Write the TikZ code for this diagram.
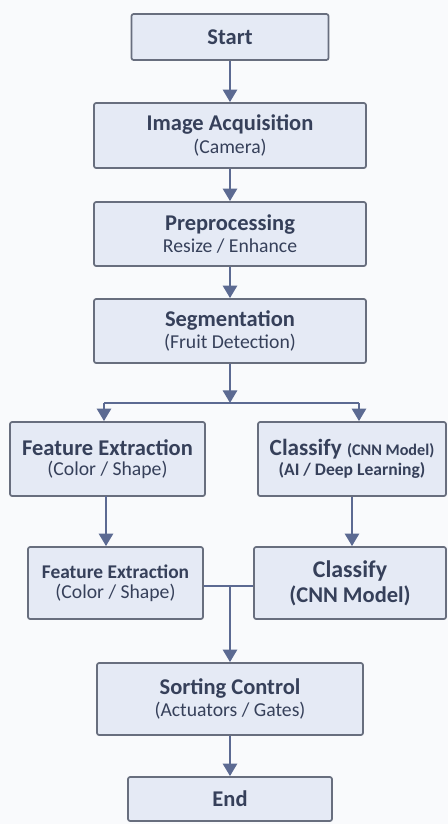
\documentclass[tikz,border=0pt]{standalone}
\usepackage{fontspec}
\setmainfont{Carlito}
\usepackage{tikz}
\usetikzlibrary{arrows.meta,calc,positioning}
\definecolor{fsBack}{RGB}{249,250,252}
\definecolor{fsFill}{RGB}{229,234,245}
\definecolor{fsLine}{RGB}{104,110,126}
\definecolor{fsFlow}{RGB}{92,106,146}
\definecolor{fsText}{RGB}{54,64,90}
\newcommand{\stagetext}[2]{%
  {\fontsize{16}{18}\selectfont\bfseries #1}\\[2pt]
  {\fontsize{14}{16}\selectfont #2}%
}
\tikzset{
  stagebox/.style={draw=fsLine, fill=fsFill, line width=1.2pt,
    rounded corners=1.5pt, align=center, text=fsText, inner sep=0pt},
  flow/.style={draw=fsFlow, line width=2pt,
    -{Triangle[width=10pt,length=9pt]}},
  flowline/.style={draw=fsFlow, line width=2pt}
}

\begin{document}
\begin{tikzpicture}[x=0.025cm,y=-0.025cm]
  \fill[fsBack] (0,0) rectangle (448,824);
  \useasboundingbox (0,0) rectangle (448,824);
  % main column
  \node[stagebox, minimum width=197*0.025cm, minimum height=46*0.025cm]
    (start) at (230,37) {\fontsize{16}{18}\selectfont\bfseries Start};
  \node[stagebox, minimum width=272*0.025cm, minimum height=65*0.025cm]
    (acq) at (230,135.5) {\stagetext{Image Acquisition}{(Camera)}};
  \node[stagebox, minimum width=272*0.025cm, minimum height=64*0.025cm]
    (pre) at (230,234) {\stagetext{Preprocessing}{Resize / Enhance}};
  \node[stagebox, minimum width=272*0.025cm, minimum height=64*0.025cm]
    (seg) at (230,331) {\stagetext{Segmentation}{(Fruit Detection)}};
  % two branches
  \node[stagebox, minimum width=195*0.025cm, minimum height=74*0.025cm]
    (feA) at (107.5,459) {\stagetext{Feature Extraction}{(Color / Shape)}};
  \node[stagebox, minimum width=188*0.025cm, minimum height=74*0.025cm]
    (clA) at (352,459) {{\fontsize{16.5}{18}\selectfont\bfseries Classify
      {\fontsize{11.5}{13}\selectfont (CNN Model)}}\\[2pt]
      {\fontsize{12.5}{14}\selectfont\bfseries (AI / Deep Learning)}};
  \node[stagebox, minimum width=175*0.025cm, minimum height=72*0.025cm]
    (feB) at (115.5,583) {{\fontsize{13.8}{16}\selectfont\bfseries Feature Extraction}\\[2pt]
      {\fontsize{14}{16}\selectfont (Color / Shape)}};
  \node[stagebox, minimum width=192*0.025cm, minimum height=72*0.025cm]
    (clB) at (350,583) {{\fontsize{17}{19}\selectfont\bfseries Classify}\\[2pt]
      {\fontsize{16}{18}\selectfont\bfseries (CNN Model)}};
  \node[stagebox, minimum width=266*0.025cm, minimum height=72*0.025cm]
    (sort) at (230,699) {\stagetext{Sorting Control}{(Actuators / Gates)}};
  \node[stagebox, minimum width=204*0.025cm, minimum height=44*0.025cm]
    (end) at (230,799) {\fontsize{16}{18}\selectfont\bfseries End};
  \coordinate (split) at (230,403);
  \coordinate (splitL) at (104,403);
  \coordinate (splitR) at (359,403);
  \coordinate (feAout) at (106,496);
  \coordinate (merge) at (230,586);
  % connectors
  \draw[flow] (start) -- (acq);
  \draw[flow] (acq) -- (pre);
  \draw[flow] (pre) -- (seg);
  \draw[flow] (seg) -- (split);
  \draw[flowline] (splitL) -- (splitR);
  \draw[flow] (splitL) -- (splitL |- feA.north);
  \draw[flow] (splitR) -- (splitR |- clA.north);
  \draw[flow] (feAout) -- (feAout |- feB.north);
  \draw[flow] (clA.south) -- (clA.south |- clB.north);
  \draw[flowline] (feB.east |- merge) -- (clB.west |- merge);
  \draw[flow] (merge) -- (sort);
  \draw[flow] (sort) -- (end);
\end{tikzpicture}
\end{document}
